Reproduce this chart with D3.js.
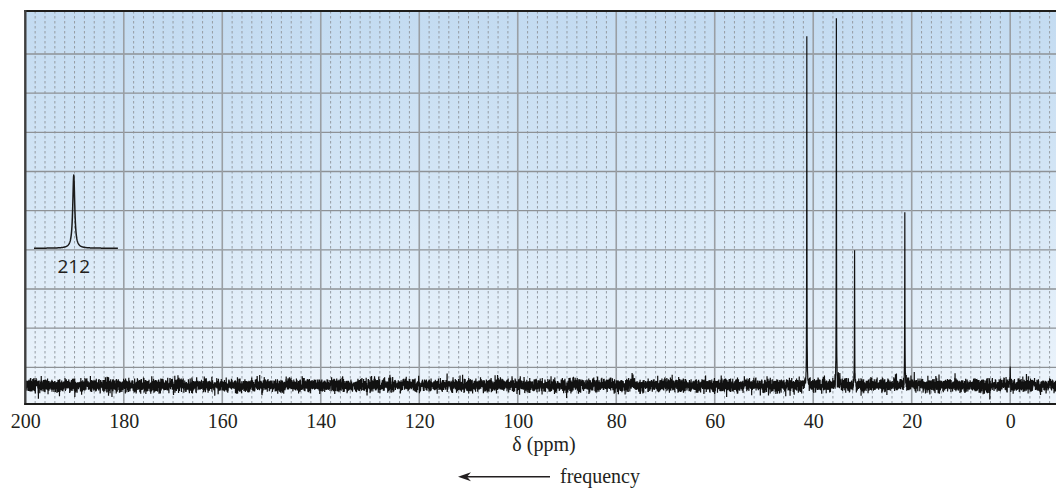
<!DOCTYPE html>
<html>
<head>
<meta charset="utf-8">
<script src="https://cdn.jsdelivr.net/npm/d3@7"></script>
<style>
  html, body { margin: 0; padding: 0; background: #ffffff; }
  svg { display: block; }
</style>
</head>
<body>
<svg id="chart" width="1056" height="488"></svg>
<script>
// ---- chart data -------------------------------------------------------
// axis ticks (ppm)
const ppmTicks = [200, 180, 160, 140, 120, 100, 80, 60, 40, 20, 0];
// main signals: chemical shift (ppm) and height above the baseline
const peakPpm    = [41.3, 35.3, 34.6, 31.6, 21.4, 0.0];
const peakHeight = [8.91, 9.37, 0.3, 3.45, 4.42, 0.48];
// solvent triplet (CDCl3)
const solventPpm    = [77.3, 77.0, 76.7];
const solventHeight = [0.06, 0.08, 0.06];
// offset signal shown in the inset
const insetPpm = 212;
const insetLabel = "212";
const insetBase = 4.04;
const insetHeight = 1.87;
// baseline level of the spectrum
const baselineLevel = 0.54;

// ---- layout -----------------------------------------------------------
const plot = { left: 25.3, right: 1056, top: 11, bottom: 404 };

const svg = d3.select("#chart");

const x = d3.scaleLinear().domain([200, -9.3]).range([plot.left, plot.right]);
const y = d3.scaleLinear().domain([0, 9]).range([406.5, 54]);

// background gradient
const defs = svg.append("defs");
const grad = defs.append("linearGradient")
  .attr("id", "bg").attr("x1", 0).attr("y1", 0).attr("x2", 0).attr("y2", 1);
grad.append("stop").attr("offset", "0%").attr("stop-color", "#c3dbf1");
grad.append("stop").attr("offset", "50%").attr("stop-color", "#d6e7f6");
grad.append("stop").attr("offset", "100%").attr("stop-color", "#eef5fc");

defs.append("clipPath").attr("id", "plotClip")
  .append("rect")
  .attr("x", plot.left).attr("y", plot.top)
  .attr("width", plot.right - plot.left).attr("height", plot.bottom - plot.top);

svg.append("rect")
  .attr("x", plot.left).attr("y", plot.top)
  .attr("width", plot.right - plot.left).attr("height", plot.bottom - plot.top)
  .attr("fill", "url(#bg)");

const gridG = svg.append("g").attr("clip-path", "url(#plotClip)");

// minor dashed verticals every 2 ppm
const minorPpm = d3.range(198, -10, -2).filter(v => v % 20 !== 0);
gridG.selectAll("line.minor").data(minorPpm).join("line")
  .attr("class", "minor")
  .attr("x1", d => x(d)).attr("x2", d => x(d))
  .attr("y1", plot.top).attr("y2", plot.bottom)
  .attr("stroke", "#959ca3").attr("stroke-width", 1)
  .attr("stroke-dasharray", "2.5,2.5");

// horizontal grid lines
const rowValues = d3.range(1, 10);
gridG.selectAll("line.row").data(rowValues).join("line")
  .attr("class", "row")
  .attr("x1", plot.left).attr("x2", plot.right)
  .attr("y1", d => y(d)).attr("y2", d => y(d))
  .attr("stroke", "#8e9296").attr("stroke-width", 1.4);

// major verticals every 20 ppm
gridG.selectAll("line.major").data(ppmTicks.filter(v => v !== 200)).join("line")
  .attr("class", "major")
  .attr("x1", d => x(d)).attr("x2", d => x(d))
  .attr("y1", plot.top).attr("y2", plot.bottom)
  .attr("stroke", "#9a9fa4").attr("stroke-width", 1.6);

// ---- spectrum ---------------------------------------------------------
const lorentz = (v, c, hw) => 1 / (1 + ((v - c) / hw) * ((v - c) / hw));
const noise = d3.randomNormal.source(d3.randomLcg(0.4127))(0, 0.085);

const centres = peakPpm.slice();
// regular sampling grid, leaving room around each signal centre
const samples = d3.range(200.5, -9.6, -0.02)
  .filter(v => centres.every(c => Math.abs(v - c) > 0.012));
const allPpm = samples.concat(centres).sort((a, b) => b - a);

const spectrum = allPpm.map(v => {
  let val = baselineLevel;
  if (!centres.includes(v)) val += noise();
  peakPpm.forEach((c, i) => { val += peakHeight[i] * lorentz(v, c, 0.03); });
  solventPpm.forEach((c, i) => { val += solventHeight[i] * lorentz(v, c, 0.15); });
  return [v, val];
});

const line = d3.line().x(d => x(d[0])).y(d => y(d[1]));

svg.append("g").attr("clip-path", "url(#plotClip)")
  .append("path")
  .datum(spectrum)
  .attr("d", line)
  .attr("fill", "none")
  .attr("stroke", "#111111")
  .attr("stroke-width", 1.2)
  .attr("stroke-linejoin", "bevel");

// ---- inset peak -------------------------------------------------------
const insetX = d3.scaleLinear().domain([213, 210.9]).range([34, 117.5]);
const insetData = d3.range(213, 210.89, -0.005).concat([insetPpm])
  .sort((a, b) => b - a)
  .map(v => [v, insetBase + insetHeight * lorentz(v, insetPpm, 0.03)]);

svg.append("path")
  .datum(insetData)
  .attr("d", d3.line().x(d => insetX(d[0])).y(d => y(d[1])))
  .attr("fill", "none")
  .attr("stroke", "#1b1b1b")
  .attr("stroke-width", 1.5)
  .attr("stroke-linejoin", "round");

svg.append("text")
  .attr("x", insetX(insetPpm))
  .attr("y", 273)
  .attr("text-anchor", "middle")
  .attr("font-family", "'Open Sans', 'Noto Sans', sans-serif")
  .attr("font-size", 19)
  .attr("fill", "#231f20")
  .text(insetLabel);

// ---- frame ------------------------------------------------------------
svg.append("line")
  .attr("x1", plot.left - 1).attr("x2", plot.right)
  .attr("y1", plot.top).attr("y2", plot.top)
  .attr("stroke", "#1d1d1b").attr("stroke-width", 2);
svg.append("line")
  .attr("x1", plot.left).attr("x2", plot.left)
  .attr("y1", plot.top - 1).attr("y2", plot.bottom + 1)
  .attr("stroke", "#3f3f3f").attr("stroke-width", 2.4);

// ---- x axis -----------------------------------------------------------
const axis = d3.axisBottom(x).tickValues(ppmTicks).tickSize(0).tickPadding(10)
  .tickFormat(d3.format("d"));
const axG = svg.append("g")
  .attr("transform", `translate(0,${plot.bottom})`)
  .call(axis);
axG.select(".domain")
  .attr("stroke", "#1d1d1b").attr("stroke-width", 2)
  .attr("d", `M${plot.left - 1},0H${plot.right}`);
axG.selectAll("text")
  .attr("font-family", "'Liberation Serif', 'Times New Roman', serif")
  .attr("font-size", 20)
  .attr("fill", "#231f20");

svg.append("text")
  .attr("x", 544).attr("y", 451)
  .attr("text-anchor", "middle")
  .attr("font-family", "'Liberation Serif', 'Times New Roman', serif")
  .attr("font-size", 20)
  .attr("fill", "#231f20")
  .text("δ (ppm)");

// frequency arrow
const arrowY = 476.7;
svg.append("line")
  .attr("x1", 550).attr("x2", 466)
  .attr("y1", arrowY).attr("y2", arrowY)
  .attr("stroke", "#231f20").attr("stroke-width", 1.5);
svg.append("path")
  .attr("d", `M458,${arrowY}L471,${arrowY - 4.5}L467,${arrowY}L471,${arrowY + 4.5}Z`)
  .attr("fill", "#231f20");
svg.append("text")
  .attr("x", 560).attr("y", 483)
  .attr("font-family", "'Liberation Serif', 'Times New Roman', serif")
  .attr("font-size", 20)
  .attr("fill", "#231f20")
  .text("frequency");
</script>
</body>
</html>
